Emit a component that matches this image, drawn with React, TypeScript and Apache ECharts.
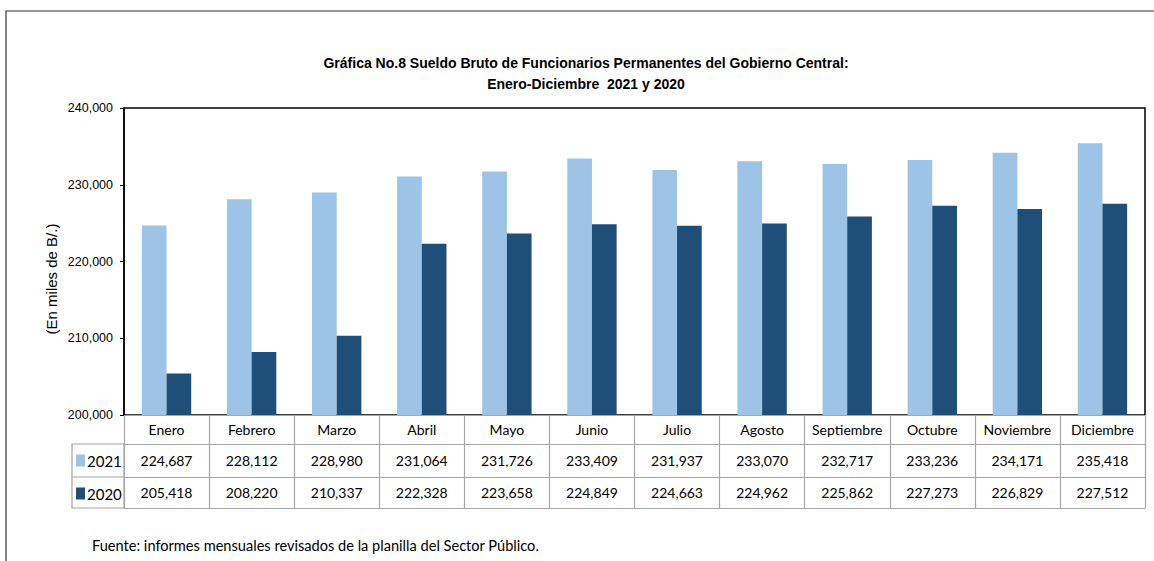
import React, { useEffect, useRef } from "react";
import * as echarts from "echarts";

const months = ["Enero", "Febrero", "Marzo", "Abril", "Mayo", "Junio", "Julio", "Agosto", "Septiembre", "Octubre", "Noviembre", "Diciembre"];
const values2021 = [224687, 228112, 228980, 231064, 231726, 233409, 231937, 233070, 232717, 233236, 234171, 235418];
const values2020 = [205418, 208220, 210337, 222328, 223658, 224849, 224663, 224962, 225862, 227273, 226829, 227512];
const yTicks = { min: 200000, max: 240000, interval: 10000 };
const titleLines = ["Gráfica No.8 Sueldo Bruto de Funcionarios Permanentes del Gobierno Central:", "Enero-Diciembre  2021 y 2020"];
const yName = "(En miles de B/.)";
const source = "Fuente: informes mensuales revisados de la planilla del Sector Público.";

const fmt = (v: number) => v.toLocaleString("en-US");

const GRID_LEFT = 124;
const GRID_TOP = 108;
const GRID_RIGHT = 9;
const AXIS_Y = 415;
const ROW1 = 29;
const ROW2 = 62;
const ROW3 = 93;
const TABLE_COLOR = "#A6A6A6";
const LIGHT = "#9DC3E6";
const DARK = "#1F4E79";
const TABLE_FONT = "Lato, 'Open Sans', sans-serif";
const ARIAL = "'Liberation Sans', Arial, sans-serif";

export default function App() {
  const ref = useRef<HTMLDivElement>(null);
  useEffect(() => {
    if (!ref.current) return;
    const chart = echarts.init(ref.current, null, { renderer: "svg" });
    const H = 561;
    const baseX = (extra: any) => ({
      type: "category",
      gridIndex: 0,
      data: months,
      position: "bottom",
      boundaryGap: true,
      axisTick: { show: false },
      splitLine: { show: false },
      axisLine: { show: true, lineStyle: { color: TABLE_COLOR, width: 1.2 } },
      ...extra,
    });
    chart.setOption({
      animation: false,
      backgroundColor: "#fff",
      title: {
        text: titleLines.join("\n"),
        left: 581,
        textAlign: "center",
        top: 47,
        textStyle: {
          fontFamily: "'Liberation Sans Narrow', 'Arial Narrow', sans-serif",
          fontWeight: "bold",
          fontSize: 14,
          lineHeight: 21,
          color: "#000",
        },
      },
      legend: {
        orient: "vertical",
        left: 76,
        top: 453,
        padding: 0,
        itemWidth: 9,
        itemHeight: 12,
        itemGap: 18,
        icon: "rect",
        data: ["2021", "2020"],
        textStyle: { fontFamily: TABLE_FONT, fontSize: 15, color: "#000", padding: [0, 0, 0, -3] },
      },
      grid: {
        left: GRID_LEFT,
        top: GRID_TOP,
        right: GRID_RIGHT,
        bottom: H - AXIS_Y,
        show: true,
        borderColor: "#000",
        borderWidth: 1.5,
        containLabel: false,
      },
      xAxis: [
        baseX({
          axisTick: { show: true, length: ROW3, alignWithLabel: false, lineStyle: { color: TABLE_COLOR, width: 1.2 } },
          axisLabel: { interval: 0, margin: 7, fontFamily: TABLE_FONT, fontSize: 14, color: "#000" },
        }),
        baseX({
          offset: ROW1,
          axisLabel: { interval: 0, margin: 9, fontFamily: TABLE_FONT, fontSize: 14, color: "#000", formatter: (_v: string, i: number) => fmt(values2021[i]) },
        }),
        baseX({
          offset: ROW2,
          axisLabel: { interval: 0, margin: 8, fontFamily: TABLE_FONT, fontSize: 14, color: "#000", formatter: (_v: string, i: number) => fmt(values2020[i]) },
        }),
        baseX({
          offset: ROW3,
          axisLabel: { show: false },
        }),
      ],
      yAxis: {
        type: "value",
        min: yTicks.min,
        max: yTicks.max,
        interval: yTicks.interval,
        axisLine: { show: true, lineStyle: { color: "#000", width: 1.5 } },
        axisTick: { show: true, inside: false, length: 4, lineStyle: { color: "#000" } },
        splitLine: { show: false },
        axisLabel: {
          margin: 11,
          fontFamily: ARIAL,
          fontSize: 12.5,
          color: "#000",
          formatter: (v: number) => fmt(v),
        },
      },
      series: [
        {
          name: "2021",
          type: "bar",
          data: values2021,
          xAxisIndex: 0,
          barGap: "0%",
          barCategoryGap: "42%",
          itemStyle: { color: LIGHT },
        },
        {
          name: "2020",
          type: "bar",
          data: values2020,
          xAxisIndex: 0,
          barGap: "0%",
          barCategoryGap: "42%",
          itemStyle: { color: DARK },
        },
      ],
      graphic: [
        {
          type: "rect",
          shape: { x: 6, y: 11, width: 1200, height: 600 },
          style: { fill: "none", stroke: "#333", lineWidth: 1.2 },
          silent: true,
        },
        {
          type: "rect",
          shape: { x: 72, y: AXIS_Y + ROW1, width: GRID_LEFT - 72, height: ROW3 - ROW1 },
          style: { fill: "none", stroke: TABLE_COLOR, lineWidth: 1.2 },
          silent: true,
        },
        {
          type: "line",
          shape: { x1: 72, y1: AXIS_Y + ROW2, x2: GRID_LEFT, y2: AXIS_Y + ROW2 },
          style: { stroke: TABLE_COLOR, lineWidth: 1.2 },
          silent: true,
        },
        {
          type: "text",
          x: 51,
          y: 279,
          rotation: Math.PI / 2,
          style: { text: yName, fontFamily: ARIAL, fontSize: 15, fill: "#000", align: "center", verticalAlign: "middle" },
          silent: true,
        },
        {
          type: "text",
          x: 92,
          y: 545,
          style: { text: source, fontFamily: TABLE_FONT, fontSize: 14.6, fill: "#000", verticalAlign: "middle" },
          silent: true,
        },
      ],
    });
    return () => chart.dispose();
  }, []);
  return <div ref={ref} style={{ position: "fixed", left: 0, top: 0, width: 1154, height: 561 }} />;
}
